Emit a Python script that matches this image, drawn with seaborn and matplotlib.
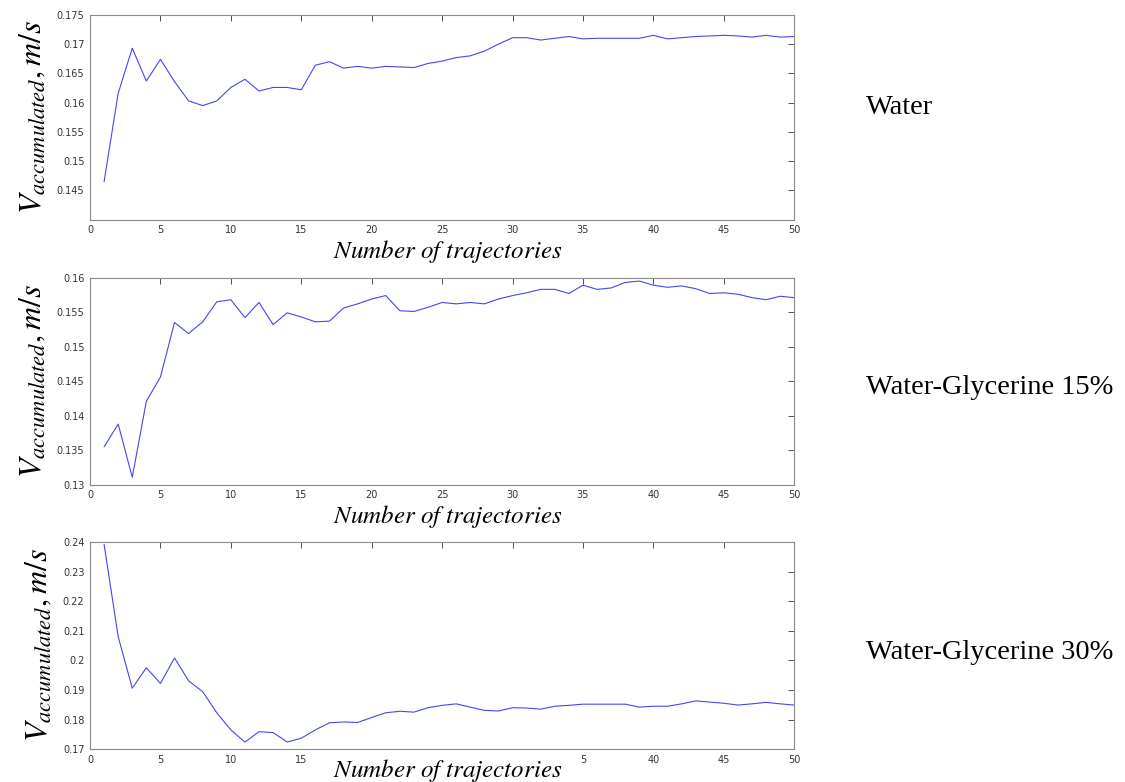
import numpy as np
import pandas as pd
import seaborn as sns
import matplotlib.pyplot as plt

# number of trajectories
n_traj = list(range(1, 51))

v_water = [0.1465, 0.1616, 0.1693, 0.1637, 0.1674, 0.1636, 0.1603, 0.1595, 0.1603, 0.1626,
           0.1640, 0.1620, 0.1626, 0.1626, 0.1622, 0.1664, 0.1670, 0.1659, 0.1662, 0.1659,
           0.1662, 0.1661, 0.1660, 0.1667, 0.1671, 0.1677, 0.1680, 0.1688, 0.1700, 0.1711,
           0.1711, 0.1707, 0.1710, 0.1713, 0.1709, 0.1710, 0.1710, 0.1710, 0.1710, 0.1715,
           0.1709, 0.1711, 0.1713, 0.1714, 0.1715, 0.1714, 0.1712, 0.1715, 0.1712, 0.1713]

v_gly15 = [0.1355, 0.1388, 0.1311, 0.1421, 0.1456, 0.1535, 0.1519, 0.1536, 0.1565, 0.1568,
           0.1542, 0.1564, 0.1532, 0.1549, 0.1543, 0.1536, 0.1537, 0.1556, 0.1562, 0.1569,
           0.1574, 0.1552, 0.1551, 0.1557, 0.1564, 0.1562, 0.1564, 0.1562, 0.1569, 0.1574,
           0.1578, 0.1583, 0.1583, 0.1577, 0.1589, 0.1583, 0.1585, 0.1593, 0.1595, 0.1589,
           0.1586, 0.1588, 0.1584, 0.1577, 0.1578, 0.1576, 0.1571, 0.1568, 0.1573, 0.1571]

v_gly30 = [0.2392, 0.2080, 0.1906, 0.1975, 0.1922, 0.2008, 0.1931, 0.1894, 0.1823, 0.1765,
           0.1724, 0.1759, 0.1756, 0.1724, 0.1737, 0.1765, 0.1789, 0.1792, 0.1790, 0.1807,
           0.1823, 0.1828, 0.1825, 0.1840, 0.1848, 0.1853, 0.1842, 0.1831, 0.1829, 0.1840,
           0.1839, 0.1835, 0.1845, 0.1848, 0.1852, 0.1852, 0.1852, 0.1852, 0.1842, 0.1845,
           0.1845, 0.1853, 0.1863, 0.1859, 0.1855, 0.1849, 0.1853, 0.1858, 0.1853, 0.1849]

fluids = ['Water', 'Water-Glycerine 15%', 'Water-Glycerine 30%']
series = [v_water, v_gly15, v_gly30]
ylims = [(0.14, 0.175), (0.13, 0.16), (0.17, 0.24)]
yticks = [[0.145, 0.15, 0.155, 0.16, 0.165, 0.17, 0.175],
          [0.13, 0.135, 0.14, 0.145, 0.15, 0.155, 0.16],
          [0.17, 0.18, 0.19, 0.2, 0.21, 0.22, 0.23, 0.24]]
ytick_labels = [['0.145', '0.15', '0.155', '0.16', '0.165', '0.17', '0.175'],
                ['0.13', '0.135', '0.14', '0.145', '0.15', '0.155', '0.16'],
                ['0.17', '0.18', '0.19', '0.2', '0.21', '0.22', '0.23', '0.24']]
xticks = [0, 5, 10, 15, 20, 25, 30, 35, 40, 45, 50]
xtick_labels = [['0', '5', '10', '15', '20', '25', '30', '35', '40', '45', '50'],
                ['0', '5', '10', '15', '20', '25', '30', '35', '40', '45', '50'],
                ['0', '5', '10', '15', '', '', '', '5', '40', '45', '50']]

sns.set_style('white')
plt.rcParams['mathtext.fontset'] = 'stix'

fig = plt.figure(figsize=(11.25, 7.82), dpi=100)
boxes = [[0.080, 0.719, 0.626, 0.262],
         [0.080, 0.380, 0.626, 0.265],
         [0.080, 0.042, 0.626, 0.265]]
label_y = [0.679, 0.340, 0.015]
name_y = [0.862, 0.504, 0.166]

for i in range(3):
    ax = fig.add_axes(boxes[i])
    df = pd.DataFrame({'n': n_traj, 'v': series[i]})
    sns.lineplot(data=df, x='n', y='v', ax=ax, color='#4646f0', lw=0.8)
    ax.set_xlim(0, 50)
    ax.set_ylim(*ylims[i])
    ax.set_xticks(xticks)
    ax.set_xticklabels(xtick_labels[i])
    ax.set_yticks(yticks[i])
    ax.set_yticklabels(ytick_labels[i])
    ax.tick_params(direction='in', length=4, width=0.6, labelsize=7,
                   colors='#333333', top=True, right=True, pad=4)
    for s in ax.spines.values():
        s.set_color('#8a8a8a')
        s.set_linewidth(0.8)
    ax.set_xlabel('')
    ax.set_ylabel(r'$V_{accumulated}, m/s$', fontsize=23, labelpad=6, color='black')
    fig.text(0.398, label_y[i], r'$Number\ of\ trajectories$', fontsize=18,
             ha='center', va='center', color='black')
    fig.text(0.770, name_y[i], fluids[i], family='Liberation Serif',
             fontsize=20.5, ha='left', va='center', color='black')

fig.savefig('out.png', dpi=100)
